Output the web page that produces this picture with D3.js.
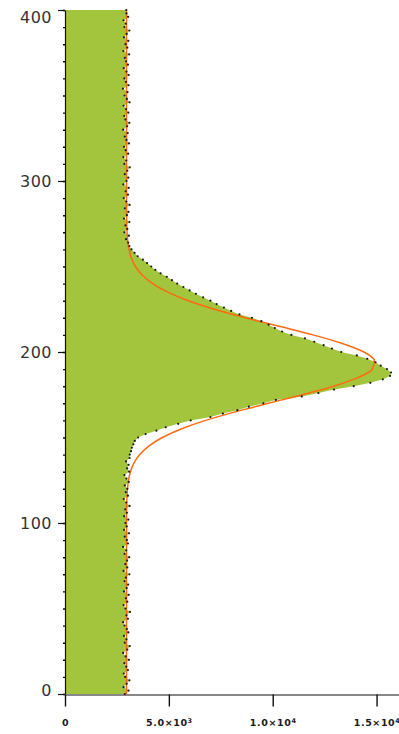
<!DOCTYPE html>
<html>
<head>
<meta charset="utf-8">
<script src="https://cdn.jsdelivr.net/npm/d3@7"></script>
<style>
  html, body { margin: 0; padding: 0; background: #fff; }
  svg { display: block; }
</style>
</head>
<body>
<svg id="chart" width="399" height="734"></svg>
<script>
// Depth profile: intensity (x) against position (y), measured every 2 units
const positionStep = 2;
const intensity = [
  2880, 3060, 2820, 2970, 3100, 2900, 2830, 3030, 2950, 2860,
  3080, 2920, 2800, 3000, 3120, 2880, 2960, 2840, 3050, 2980,
  2870, 2800, 3030, 2960, 3130, 2910, 2820, 3000, 2930, 3070,
  2840, 2970, 3040, 2870, 2930, 3100, 2820, 3000, 2900, 2990,
  3090, 2870, 2950, 2800, 3030, 2980, 2880, 3080, 2840, 2970,
  2910, 3050, 2850, 2980, 2900, 3110, 2950, 2830, 3030, 2930,
  3000, 2880, 3070, 2960, 2860, 3090, 2990, 3060, 2940, 3110,
  3120, 3180, 3220, 3290, 3360, 3520, 3880, 4400, 4850, 5450,
  6050, 7000, 7600, 8300, 8850, 9550, 10150, 11400, 12200, 12950,
  13900, 14700, 15300, 15650, 15700, 15500, 15200, 14950, 14550, 14050,
  13300, 12850, 12450, 12000, 11550, 10900, 10450, 10100, 9800, 9450,
  9000, 8400, 8000, 7650, 7300, 7000, 6650, 6300, 6000, 5700,
  5400, 5150, 4900, 4600, 4350, 4150, 3950, 3750, 3500, 3350,
  3200, 3100, 3040, 2940, 3080, 2860, 3000, 2910, 3100, 2840,
  2980, 3060, 2880, 3110, 2950, 2830, 3030, 2920, 3070, 2810,
  2960, 3050, 2880, 3000, 3120, 2860, 2950, 2810, 3040, 2920,
  2840, 3080, 2960, 2880, 3020, 2800, 2990, 3100, 2910, 2850,
  3050, 2940, 2820, 3110, 2980, 2870, 3010, 2790, 3060, 2930,
  2860, 3070, 2960, 2830, 3030, 2940, 2880, 3090, 2810, 3000,
  2910, 3050, 2840, 2970, 3100, 2860, 2930, 2820, 3040, 2960,
  2950
];

// Fitted peak (baseline + Gaussian), tabulated every 5 units
const fitStep = 5;
const fitted = [
  2960, 2960, 2960, 2960, 2960, 2960, 2960, 2960, 2960, 2960, 2960,
  2960, 2960, 2960, 2960, 2960, 2960, 2960, 2960, 2960, 2960, 2960,
  2969, 2981, 3007, 3057, 3150, 3318, 3596, 4035, 4686, 5591,
  6766, 8193, 9795, 11429, 12931, 14105, 14796, 14894, 14388, 13350,
  11934, 10319, 8691, 7198, 5938, 4947, 4218, 3717, 3392, 3195,
  3081, 3019, 2987, 2972, 2965,
  2960, 2960, 2960, 2960, 2960, 2960, 2960, 2960, 2960, 2960, 2960, 2960,
  2960, 2960, 2960, 2960, 2960, 2960, 2960, 2960, 2960, 2960, 2960, 2960
];

// Axis ticks
const yMajorTicks = [0, 100, 200, 300, 400];
const yMinorTicks = d3.range(0, 401, 10);
const xTicks = [0, 5000, 10000, 15000];
const xTickLabels = [["0", ""], ["5.0×10", "3"], ["1.0×10", "4"], ["1.5×10", "4"]];

const svg = d3.select("#chart");

const x = d3.scaleLinear().domain([0, 16080]).range([65, 399]);
const y = d3.scaleLinear().domain([0, 400]).range([694, 10]);

const profile = intensity.map((v, i) => ({ pos: i * positionStep, v }));
const fitPts = fitted.map((v, i) => ({ pos: i * fitStep, v }));

// Filled profile
svg.append("path")
  .datum(profile)
  .attr("fill", "#a3c43d")
  .attr("d", d3.area()
    .y(d => y(d.pos))
    .x0(x(0))
    .x1(d => x(d.v)));

// Fit curve
svg.append("path")
  .datum(fitPts)
  .attr("fill", "none")
  .attr("stroke", "#ff6a10")
  .attr("stroke-width", 1.5)
  .attr("d", d3.line()
    .y(d => y(d.pos))
    .x(d => x(d.v))
    .curve(d3.curveMonotoneY));

// Measured points
svg.append("g")
  .selectAll("circle")
  .data(profile)
  .join("circle")
  .attr("cx", d => x(d.v))
  .attr("cy", d => y(d.pos))
  .attr("r", 1.1)
  .attr("fill", "#1a1a1a");

// Y axis: minor ticks
svg.append("g")
  .attr("transform", "translate(65,0)")
  .call(d3.axisLeft(y).tickValues(yMinorTicks).tickSize(2).tickSizeOuter(0).tickFormat(""))
  .call(g => g.select(".domain").remove())
  .call(g => g.selectAll("line").attr("stroke", "#111").attr("stroke-width", 1.4));

// Y axis: major ticks and labels
const yAxis = svg.append("g")
  .attr("transform", "translate(65,0)")
  .call(d3.axisLeft(y).tickValues(yMajorTicks).tickSize(7).tickSizeOuter(0).tickPadding(6).tickFormat(d3.format("d")));
yAxis.select(".domain").attr("stroke", "#111").attr("stroke-width", 1.2);
yAxis.selectAll("line").attr("stroke", "#111").attr("stroke-width", 1.2);
yAxis.selectAll("text")
  .attr("font-family", "DejaVu Sans, sans-serif")
  .attr("font-size", 16)
  .attr("fill", "#333")
  .attr("letter-spacing", "0.5px")
  .attr("dy", d => d === 400 ? "0.75em" : d === 0 ? "0.1em" : "0.32em");

// X axis
const xAxis = svg.append("g")
  .attr("transform", "translate(0,694.5)")
  .call(d3.axisBottom(x).tickValues(xTicks).tickSize(12).tickSizeOuter(0).tickPadding(8).tickFormat(""));
xAxis.select(".domain").attr("stroke", "#111").attr("stroke-width", 1.2);
xAxis.selectAll("line").attr("stroke", "#111").attr("stroke-width", 1.4);
xAxis.selectAll(".tick text").each(function(d, i) {
  const t = d3.select(this)
    .attr("font-family", "DejaVu Sans, sans-serif")
    .attr("font-size", 9.5)
    .attr("font-weight", "bold")
    .attr("fill", "#1a1a1a")
    .attr("letter-spacing", "0.6px")
    .attr("y", 28)
    .attr("dy", "0.32em");
  const [base, sup] = xTickLabels[i];
  t.text(base);
  if (sup) {
    t.append("tspan").attr("dy", "-0.45em").attr("font-size", 6.5).text(sup);
  }
});
</script>
</body>
</html>
